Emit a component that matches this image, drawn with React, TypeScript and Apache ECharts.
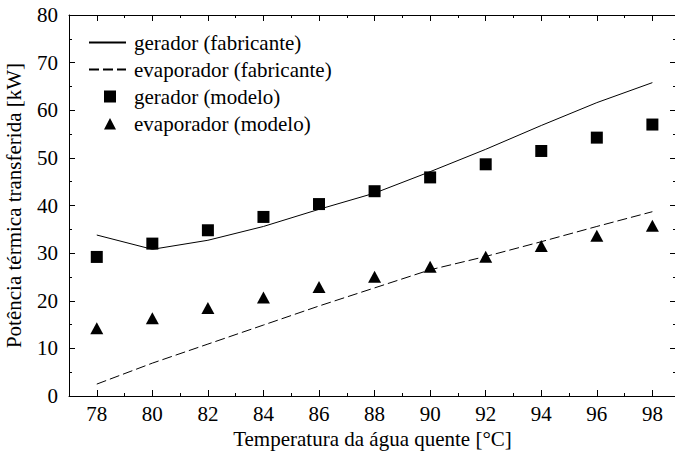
import React, { useEffect, useRef } from "react";
import * as echarts from "echarts";

const temperatures = [78, 80, 82, 84, 86, 88, 90, 92, 94, 96, 98];
const geradorFabricante = [33.8, 30.8, 32.7, 35.6, 39.2, 42.6, 47.1, 51.8, 56.8, 61.6, 65.8];
const evaporadorFabricante = [2.5, 6.9, 10.9, 14.9, 18.9, 22.7, 26.5, 29.3, 32.4, 35.6, 38.7];
const geradorModelo = [29.2, 32.0, 34.8, 37.6, 40.3, 43.0, 45.9, 48.65, 51.45, 54.25, 57.0];
const evaporadorModelo = [14.2, 16.3, 18.5, 20.7, 22.9, 25.05, 27.15, 29.25, 31.5, 33.65, 35.75];

const xMajorTicks = [78, 80, 82, 84, 86, 88, 90, 92, 94, 96, 98];
const xMinorTicks = [79, 81, 83, 85, 87, 89, 91, 93, 95, 97];
const yMajorTicks = [0, 10, 20, 30, 40, 50, 60, 70, 80];
const yMinorTicks = [5, 15, 25, 35, 45, 55, 65, 75];

const X_MIN = 77;
const X_MAX = 98.85;
const FONT = "Liberation Serif";

const pairs = (ys: number[]) => temperatures.map((t, i) => [t, ys[i]]);

const SQUARE_ICON = "path://M0,0L0.01,0L0,0.01Z M15,0H27V12H15Z M36.99,12L37,12L37,11.99Z";
const TRIANGLE_ICON = "path://M0,0L0.01,0L0,0.01Z M15,12L21,0.5L27,12Z M36.99,12L37,12L37,11.99Z";

export default function App() {
  const ref = useRef<HTMLDivElement>(null);
  useEffect(() => {
    if (!ref.current) return;
    const chart = echarts.init(ref.current, undefined, { renderer: "svg" });
    const black = "#000";
    const xAxisBase = (position: string, ticks: number[], len: number, showLine: boolean, showLabel: boolean, extra: any = {}) => ({
      type: "value",
      position,
      min: X_MIN,
      max: X_MAX,
      axisLine: { show: showLine, onZero: false, lineStyle: { color: black, width: 1 } },
      axisTick: { show: true, inside: true, length: len, customValues: ticks, lineStyle: { color: black, width: 1 } },
      axisLabel: showLabel
        ? { show: true, customValues: ticks, fontSize: 21, fontFamily: FONT, color: black, margin: 7 }
        : { show: false },
      splitLine: { show: false },
      ...extra,
    });
    const yAxisBase = (position: string, ticks: number[], len: number, showLine: boolean, showLabel: boolean, extra: any = {}) => ({
      type: "value",
      position,
      min: 0,
      max: 80,
      axisLine: { show: showLine, onZero: false, lineStyle: { color: black, width: 1 } },
      axisTick: { show: true, inside: true, length: len, customValues: ticks, lineStyle: { color: black, width: 1 } },
      axisLabel: showLabel
        ? { show: true, customValues: ticks, fontSize: 21, fontFamily: FONT, color: black, margin: 11 }
        : { show: false },
      splitLine: { show: false },
      ...extra,
    });
    const hiddenSymbol = { color: "rgba(0,0,0,0)", opacity: 0, borderWidth: 0 };
    chart.setOption({
      animation: false,
      backgroundColor: "#fff",
      grid: { left: 69, right: 4, top: 15, bottom: 60, containLabel: false, outerBoundsMode: "none" },
      xAxis: [
        xAxisBase("bottom", xMajorTicks, 6, true, true, {
          name: "Temperatura da água quente [°C]",
          nameLocation: "middle",
          nameGap: 30,
          nameTextStyle: { fontSize: 21, fontFamily: FONT, color: black },
        }),
        xAxisBase("bottom", xMinorTicks, 3, false, false),
        xAxisBase("top", xMajorTicks, 6, true, false),
        xAxisBase("top", xMinorTicks, 3, false, false),
      ],
      yAxis: [
        yAxisBase("left", yMajorTicks, 6, true, true, {
          name: "Potência térmica transferida [kW]",
          nameLocation: "middle",
          nameGap: 45,
          nameTextStyle: { fontSize: 21, fontFamily: FONT, color: black },
        }),
        yAxisBase("left", yMinorTicks, 3, false, false),
        yAxisBase("right", yMajorTicks, 6, true, false),
        yAxisBase("right", yMinorTicks, 3, false, false),
      ],
      legend: {
        orient: "vertical",
        left: 88,
        top: 32,
        padding: 0,
        itemWidth: 37,
        itemHeight: 12,
        itemGap: 6,
        textStyle: { fontSize: 21, fontFamily: FONT, color: black, padding: [0, 0, 0, 3] },
        data: [
          { name: "gerador (fabricante)", itemStyle: hiddenSymbol },
          { name: "evaporador (fabricante)", itemStyle: hiddenSymbol },
          { name: "gerador (modelo)", icon: SQUARE_ICON },
          { name: "evaporador (modelo)", icon: TRIANGLE_ICON },
        ],
      },
      series: [
        {
          name: "gerador (fabricante)",
          type: "line",
          data: pairs(geradorFabricante),
          symbol: "none",
          lineStyle: { color: black, width: 1 },
          itemStyle: { color: black },
        },
        {
          name: "evaporador (fabricante)",
          type: "line",
          data: pairs(evaporadorFabricante),
          symbol: "none",
          lineStyle: { color: black, width: 1, type: [10, 4] },
          itemStyle: { color: black },
        },
        {
          name: "gerador (modelo)",
          type: "scatter",
          data: pairs(geradorModelo),
          symbol: "rect",
          symbolSize: 12,
          itemStyle: { color: black, opacity: 1 },
        },
        {
          name: "evaporador (modelo)",
          type: "scatter",
          data: pairs(evaporadorModelo),
          symbol: "triangle",
          symbolSize: [13, 12],
          itemStyle: { color: black, opacity: 1 },
        },
      ],
    });
    return () => chart.dispose();
  }, []);
  return (
    <div
      ref={ref}
      style={{ position: "fixed", left: 0, top: 0, width: 680, height: 456 }}
    />
  );
}
